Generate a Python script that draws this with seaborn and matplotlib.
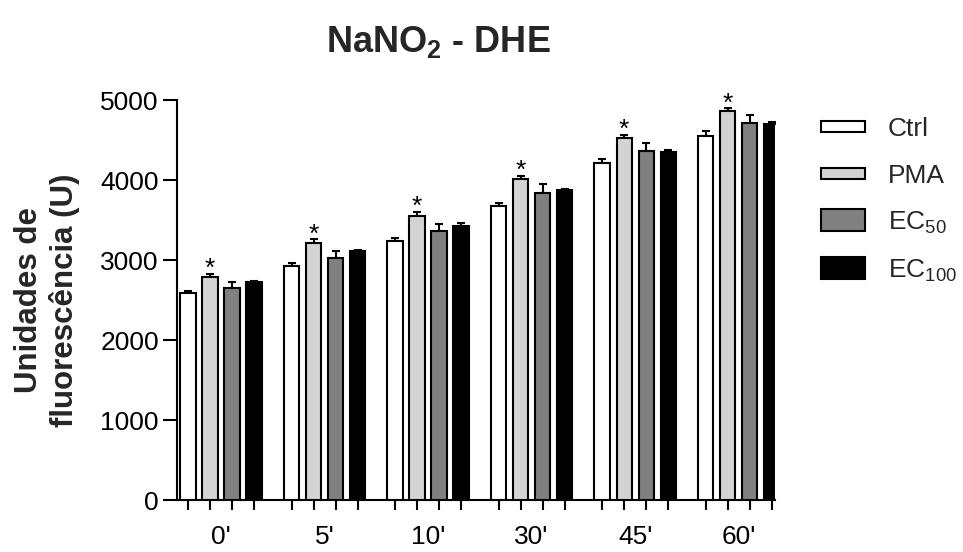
import numpy as np
import pandas as pd
import seaborn as sns
import matplotlib
matplotlib.use("Agg")
import matplotlib.pyplot as plt
from matplotlib.patches import Patch, Rectangle
from matplotlib.legend_handler import HandlerPatch

times = ["0'", "5'", "10'", "30'", "45'", "60'"]
groups = ["Ctrl", "PMA", "EC50", "EC100"]
group_labels = ["Ctrl", "PMA", "EC$_{50}$", "EC$_{100}$"]
ctrl = [2590, 2925, 3237, 3675, 4208, 4550]
pma = [2787, 3217, 3546, 4012, 4525, 4867]
ec50 = [2646, 3025, 3362, 3837, 4362, 4708]
ec100 = [2721, 3112, 3429, 3871, 4350, 4696]
ctrl_err = [26, 37, 38, 42, 59, 67]
pma_err = [42, 41, 54, 42, 37, 29]
ec50_err = [79, 87, 92, 117, 96, 100]
ec100_err = [20, 17, 29, 12, 25, 29]
stars = ["*", "*", "*", "*", "*", "*"]

colors = ["#ffffff", "#d3d3d3", "#808080", "#000000"]

sns.set_theme(style="white")
plt.rcParams["font.family"] = ["Liberation Sans", "DejaVu Sans"]
plt.rcParams["mathtext.default"] = "regular"

means = {"Ctrl": ctrl, "PMA": pma, "EC50": ec50, "EC100": ec100}
errs = {"Ctrl": ctrl_err, "PMA": pma_err, "EC50": ec50_err, "EC100": ec100_err}
rows = []
for g in groups:
    for t, v in zip(times, means[g]):
        rows.append({"time": t, "group": g, "value": v})
df = pd.DataFrame(rows)

fig = plt.figure(figsize=(9.63, 5.52), dpi=100)
ax = fig.add_axes([177 / 963, 1 - 500 / 552, (775 - 177) / 963, 400 / 552])

sns.barplot(data=df, x="time", y="value", hue="group", order=times,
            hue_order=groups, palette=colors, width=0.85, gap=0.3,
            edgecolor="black", linewidth=1.5, errorbar=None, legend=False,
            ax=ax, zorder=3)

bar_centers = []
for gi, (g, cont) in enumerate(zip(groups, ax.containers)):
    xs = np.array([b.get_x() + b.get_width() / 2 for b in cont])
    ys = np.array([b.get_height() for b in cont])
    e = np.array(errs[g])
    bar_centers.extend(xs.tolist())
    ax.errorbar(xs, ys, yerr=[np.zeros_like(e), e], fmt="none",
                ecolor="black", elinewidth=1.5, capsize=3.2, capthick=1.5,
                zorder=2)
    if g == "PMA":
        for x, y, ee, s in zip(xs, ys, e, stars):
            ax.text(x, y + ee + 60, s, ha="center", va="center",
                    fontsize=19, color="black")

ax.set_ylim(0, 5000)
ax.set_xlim(-0.425, 5.35)
ax.set_yticks([0, 1000, 2000, 3000, 4000, 5000])
ax.tick_params(axis="y", which="major", length=10, width=1.5, direction="out",
               labelsize=19, pad=3, left=True, color="black", labelcolor="black")
ax.set_xticks(range(len(times)))
ax.set_xticklabels(times)
ax.tick_params(axis="x", which="major", length=0, pad=18, labelsize=19,
               labelcolor="black")
ax.set_xticks(sorted(bar_centers), minor=True)
ax.tick_params(axis="x", which="minor", length=7.5, width=1.5, direction="out",
               bottom=True, color="black")

for s in ["top", "right"]:
    ax.spines[s].set_visible(False)
for s in ["left", "bottom"]:
    ax.spines[s].set_linewidth(1.5)
    ax.spines[s].set_color("black")

ax.set_xlabel("")
ax.set_ylabel("")
fig.text(47 / 963, 1 - 300 / 552, "Unidades de\nfluorescência (U)",
         rotation=90, ha="center", va="center", multialignment="center",
         fontsize=22.5, fontweight="bold", linespacing=1.2)

fig.text(438 / 963, 1 - 52 / 552, "NaNO$_2$ - DHE", ha="center",
         va="baseline", fontsize=26, fontweight="bold")


class BoxHandler(HandlerPatch):
    def __init__(self, frac):
        super().__init__()
        self.frac = frac

    def create_artists(self, legend, orig_handle, xdescent, ydescent,
                       width, height, fontsize, trans):
        hh = height * self.frac
        r = Rectangle((-xdescent, -ydescent + (height - hh) / 2), width, hh,
                      facecolor=orig_handle.get_facecolor(),
                      edgecolor="black", linewidth=1.5, transform=trans)
        return [r]


handles = [Patch(facecolor=c, edgecolor="black", linewidth=1.5) for c in colors]
fracs = [0.5, 0.5, 1.0, 1.0]
hmap = {h: BoxHandler(f) for h, f in zip(handles, fracs)}
fig.legend(handles, group_labels, loc="upper left",
           bbox_to_anchor=(821 / 963, 1 - 116 / 552), frameon=False,
           fontsize=19, handlelength=1.67, handleheight=0.9,
           handletextpad=0.87, labelspacing=0.82, borderaxespad=0,
           borderpad=0, handler_map=hmap)

fig.savefig("out.png", dpi=100, facecolor="white")
